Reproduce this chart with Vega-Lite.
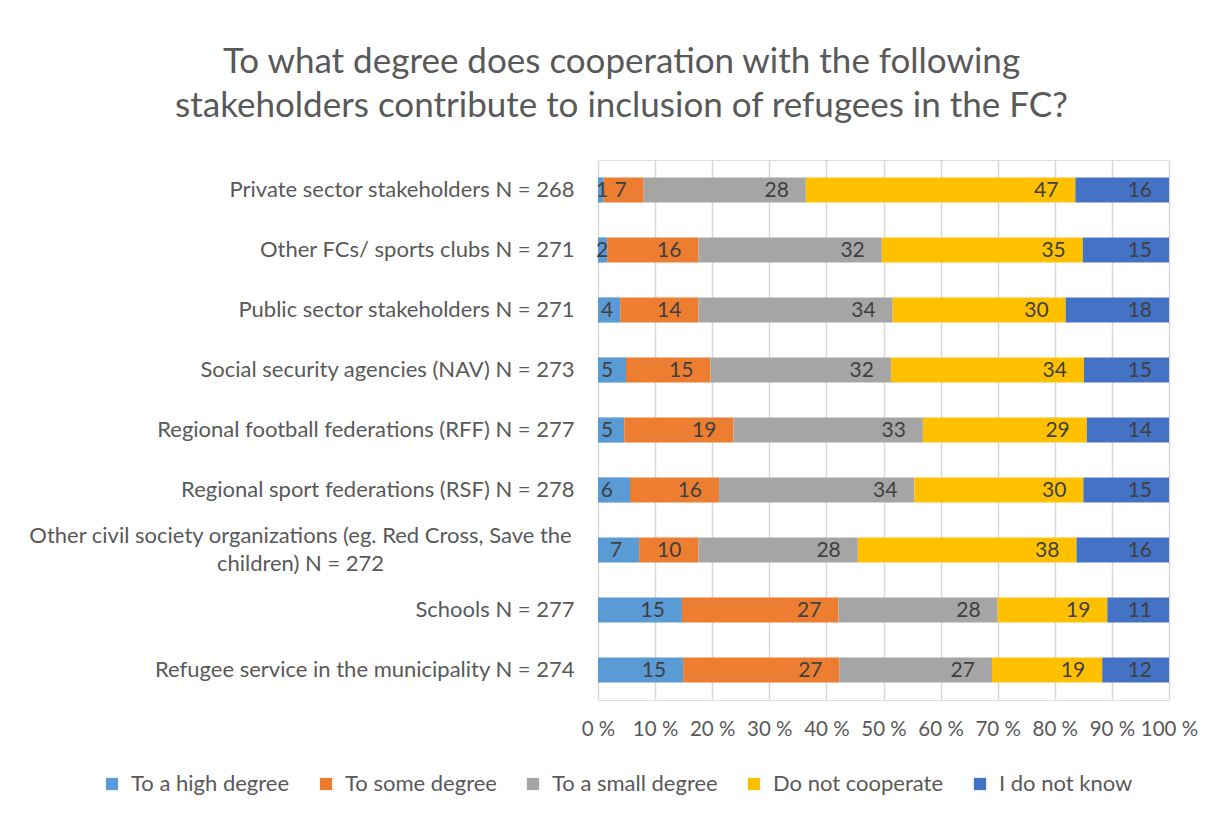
{
  "$schema": "https://vega.github.io/schema/vega-lite/v6.json",
  "width": 571,
  "height": 540,
  "autosize": {"type": "none"},
  "padding": {"left": 598, "top": 160, "right": 46, "bottom": 114},
  "background": "white",
  "title": {
    "text": ["To what degree does cooperation with the following", "stakeholders contribute to inclusion of refugees in the FC?"],
    "font": "Lato", "fontSize": 35, "fontWeight": "normal", "color": "#595959",
    "anchor": "middle", "frame": "group", "dx": -262, "lineHeight": 44, "offset": 36
  },
  "data": {"values": [
    {"stakeholder": "Private sector stakeholders N = 268", "category": "To a high degree", "rank": 1, "value": 1.0},
    {"stakeholder": "Private sector stakeholders N = 268", "category": "To some degree", "rank": 2, "value": 7.0},
    {"stakeholder": "Private sector stakeholders N = 268", "category": "To a small degree", "rank": 3, "value": 28.4},
    {"stakeholder": "Private sector stakeholders N = 268", "category": "Do not cooperate", "rank": 4, "value": 47.2},
    {"stakeholder": "Private sector stakeholders N = 268", "category": "I do not know", "rank": 5, "value": 16.4},
    {"stakeholder": "Other FCs/ sports clubs N = 271", "category": "To a high degree", "rank": 1, "value": 1.6},
    {"stakeholder": "Other FCs/ sports clubs N = 271", "category": "To some degree", "rank": 2, "value": 16.0},
    {"stakeholder": "Other FCs/ sports clubs N = 271", "category": "To a small degree", "rank": 3, "value": 32.1},
    {"stakeholder": "Other FCs/ sports clubs N = 271", "category": "Do not cooperate", "rank": 4, "value": 35.2},
    {"stakeholder": "Other FCs/ sports clubs N = 271", "category": "I do not know", "rank": 5, "value": 15.1},
    {"stakeholder": "Public sector stakeholders N = 271", "category": "To a high degree", "rank": 1, "value": 3.9},
    {"stakeholder": "Public sector stakeholders N = 271", "category": "To some degree", "rank": 2, "value": 13.7},
    {"stakeholder": "Public sector stakeholders N = 271", "category": "To a small degree", "rank": 3, "value": 34.0},
    {"stakeholder": "Public sector stakeholders N = 271", "category": "Do not cooperate", "rank": 4, "value": 30.3},
    {"stakeholder": "Public sector stakeholders N = 271", "category": "I do not know", "rank": 5, "value": 18.1},
    {"stakeholder": "Social security agencies (NAV) N = 273", "category": "To a high degree", "rank": 1, "value": 4.9},
    {"stakeholder": "Social security agencies (NAV) N = 273", "category": "To some degree", "rank": 2, "value": 14.8},
    {"stakeholder": "Social security agencies (NAV) N = 273", "category": "To a small degree", "rank": 3, "value": 31.6},
    {"stakeholder": "Social security agencies (NAV) N = 273", "category": "Do not cooperate", "rank": 4, "value": 33.8},
    {"stakeholder": "Social security agencies (NAV) N = 273", "category": "I do not know", "rank": 5, "value": 14.9},
    {"stakeholder": "Regional football federations (RFF) N = 277", "category": "To a high degree", "rank": 1, "value": 4.6},
    {"stakeholder": "Regional football federations (RFF) N = 277", "category": "To some degree", "rank": 2, "value": 19.1},
    {"stakeholder": "Regional football federations (RFF) N = 277", "category": "To a small degree", "rank": 3, "value": 33.2},
    {"stakeholder": "Regional football federations (RFF) N = 277", "category": "Do not cooperate", "rank": 4, "value": 28.7},
    {"stakeholder": "Regional football federations (RFF) N = 277", "category": "I do not know", "rank": 5, "value": 14.4},
    {"stakeholder": "Regional sport federations (RSF) N = 278", "category": "To a high degree", "rank": 1, "value": 5.6},
    {"stakeholder": "Regional sport federations (RSF) N = 278", "category": "To some degree", "rank": 2, "value": 15.6},
    {"stakeholder": "Regional sport federations (RSF) N = 278", "category": "To a small degree", "rank": 3, "value": 34.2},
    {"stakeholder": "Regional sport federations (RSF) N = 278", "category": "Do not cooperate", "rank": 4, "value": 29.6},
    {"stakeholder": "Regional sport federations (RSF) N = 278", "category": "I do not know", "rank": 5, "value": 15.0},
    {"stakeholder": "Other civil society organizations (eg. Red Cross, Save the children) N = 272", "category": "To a high degree", "rank": 1, "value": 7.2},
    {"stakeholder": "Other civil society organizations (eg. Red Cross, Save the children) N = 272", "category": "To some degree", "rank": 2, "value": 10.4},
    {"stakeholder": "Other civil society organizations (eg. Red Cross, Save the children) N = 272", "category": "To a small degree", "rank": 3, "value": 27.9},
    {"stakeholder": "Other civil society organizations (eg. Red Cross, Save the children) N = 272", "category": "Do not cooperate", "rank": 4, "value": 38.3},
    {"stakeholder": "Other civil society organizations (eg. Red Cross, Save the children) N = 272", "category": "I do not know", "rank": 5, "value": 16.2},
    {"stakeholder": "Schools N = 277", "category": "To a high degree", "rank": 1, "value": 14.7},
    {"stakeholder": "Schools N = 277", "category": "To some degree", "rank": 2, "value": 27.4},
    {"stakeholder": "Schools N = 277", "category": "To a small degree", "rank": 3, "value": 27.9},
    {"stakeholder": "Schools N = 277", "category": "Do not cooperate", "rank": 4, "value": 19.2},
    {"stakeholder": "Schools N = 277", "category": "I do not know", "rank": 5, "value": 10.8},
    {"stakeholder": "Refugee service in the municipality N = 274", "category": "To a high degree", "rank": 1, "value": 14.9},
    {"stakeholder": "Refugee service in the municipality N = 274", "category": "To some degree", "rank": 2, "value": 27.4},
    {"stakeholder": "Refugee service in the municipality N = 274", "category": "To a small degree", "rank": 3, "value": 26.7},
    {"stakeholder": "Refugee service in the municipality N = 274", "category": "Do not cooperate", "rank": 4, "value": 19.3},
    {"stakeholder": "Refugee service in the municipality N = 274", "category": "I do not know", "rank": 5, "value": 11.7}
  ]},
  "transform": [
    {"stack": "value", "groupby": ["stakeholder"], "sort": [{"field": "rank", "order": "ascending"}], "as": ["s0", "s1"]}
  ],
  "encoding": {
    "y": {
      "field": "stakeholder", "type": "nominal",
      "sort": [
        "Private sector stakeholders N = 268",
        "Other FCs/ sports clubs N = 271",
        "Public sector stakeholders N = 271",
        "Social security agencies (NAV) N = 273",
        "Regional football federations (RFF) N = 277",
        "Regional sport federations (RSF) N = 278",
        "Other civil society organizations (eg. Red Cross, Save the children) N = 272",
        "Schools N = 277",
        "Refugee service in the municipality N = 274"
      ],
      "scale": {"paddingInner": 0.58, "paddingOuter": 0.29},
      "axis": {
        "title": null, "domain": false, "ticks": false,
        "labelFont": "Lato", "labelFontSize": 22, "labelColor": "#595959",
        "labelLimit": 700, "labelLineHeight": 28,
        "labelAlign": {"condition": {"test": "indexof(datum.value, 'Other civil') == 0", "value": "center"}, "value": "right"},
        "labelPadding": {"condition": {"test": "indexof(datum.value, 'Other civil') == 0", "value": 298}, "value": 24},
        "labelOffset": {"condition": {"test": "indexof(datum.value, 'Other civil') == 0", "value": -14}, "value": 0},
        "labelExpr": "indexof(datum.label, 'Other civil') == 0 ? ['Other civil society organizations (eg. Red Cross, Save the', 'children) N = 272'] : datum.label"
      }
    }
  },
  "layer": [
    {
      "mark": {"type": "bar"},
      "encoding": {
        "x": {
          "field": "s0", "type": "quantitative",
          "scale": {"domain": [0, 100], "nice": false},
          "axis": {
            "title": null, "values": [0, 10, 20, 30, 40, 50, 60, 70, 80, 90, 100],
            "labelExpr": "datum.value + ' %'", "domain": false, "ticks": false,
            "grid": true, "gridColor": "#D9D9D9", "gridWidth": 1.5,
            "labelFont": "Lato", "labelFontSize": 20.5, "labelColor": "#595959",
            "labelPadding": 19, "labelOverlap": false, "labelFlush": false
          }
        },
        "x2": {"field": "s1"},
        "color": {
          "field": "category", "type": "nominal",
          "scale": {
            "domain": ["To a high degree", "To some degree", "To a small degree", "Do not cooperate", "I do not know"],
            "range": ["#5B9BD5", "#ED7D31", "#A5A5A5", "#FFC000", "#4472C4"]
          },
          "legend": {
            "orient": "none", "legendX": -497, "legendY": 613, "direction": "horizontal",
            "title": null, "symbolType": "square", "symbolSize": 150, "symbolOpacity": 1,
            "symbolStrokeWidth": 0, "labelLimit": 400,
            "labelFont": "Lato", "labelFontSize": 22, "labelColor": "#595959",
            "columnPadding": 25, "labelOffset": 8
          }
        }
      }
    },
    {
      "transform": [{"filter": "datum.value >= 5.2"}],
      "mark": {"type": "text", "align": "right", "baseline": "middle", "dx": -17, "dy": 1, "font": "Lato", "fontSize": 21, "color": "#404040"},
      "encoding": {
        "x": {"field": "s1", "type": "quantitative"},
        "text": {"field": "value", "type": "quantitative", "format": ".0f"}
      }
    },
    {
      "transform": [{"filter": "datum.value >= 2.5 && datum.value < 5.2"}],
      "mark": {"type": "text", "align": "left", "baseline": "middle", "dx": 3, "dy": 1, "font": "Lato", "fontSize": 21, "color": "#404040"},
      "encoding": {
        "x": {"field": "s0", "type": "quantitative"},
        "text": {"field": "value", "type": "quantitative", "format": ".0f"}
      }
    },
    {
      "transform": [{"filter": "datum.value < 2.5"}],
      "mark": {"type": "text", "align": "left", "baseline": "middle", "dx": -2, "dy": 1, "font": "Lato", "fontSize": 21, "color": "#404040"},
      "encoding": {
        "x": {"field": "s0", "type": "quantitative"},
        "text": {"field": "value", "type": "quantitative", "format": ".0f"}
      }
    }
  ]
}
